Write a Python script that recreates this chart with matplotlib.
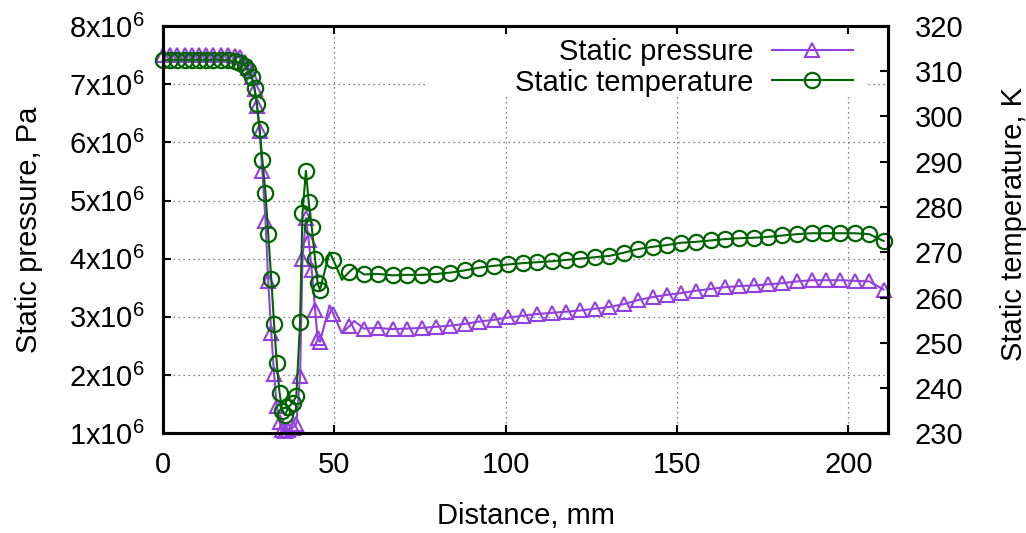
import matplotlib
matplotlib.use('Agg')
import matplotlib.pyplot as plt
from matplotlib.patches import Rectangle
from matplotlib.ticker import FixedLocator, FuncFormatter

#------------------------------------------------------------------------------------#
# Static pressure and static temperature along the distance (two y axes)
#------------------------------------------------------------------------------------#

plt.rcParams['font.family'] = ['Liberation Sans', 'DejaVu Sans']
plt.rcParams['mathtext.fontset'] = 'custom'
plt.rcParams['mathtext.rm'] = 'Liberation Sans'
plt.rcParams['font.size'] = 21

# Points carrying a marker: distance (mm), pressure (x10^6 Pa), temperature (K)
dist = [0.0, 2.1, 4.2, 6.3, 8.4, 10.5, 12.6, 14.7, 16.8, 18.9, 21.0,
        22.5, 23.9, 24.9, 25.9, 26.7, 27.4, 28.2, 29.0, 29.9, 30.7,
        31.6, 32.4, 33.2, 34.0, 34.8, 35.6, 36.6, 37.8, 38.9, 40.0,
        40.7, 41.7, 42.5, 43.4, 44.4, 45.1, 45.8, 49.7,
        54.4, 58.6, 62.8, 67.0, 71.3, 75.5, 79.7, 83.9, 88.1, 92.3,
        96.5, 100.8, 105.0, 109.2, 113.4, 117.6, 121.8, 126.0, 130.3, 134.5,
        138.7, 142.9, 147.1, 151.3, 155.5, 159.8, 164.0, 168.2, 172.4, 176.6,
        180.8, 185.0, 189.3, 193.5, 197.7, 201.9, 206.1, 210.3]

pressure = [7.50, 7.50, 7.50, 7.50, 7.50, 7.50, 7.50, 7.50, 7.50, 7.50, 7.49,
            7.46, 7.38, 7.27, 7.12, 6.92, 6.62, 6.20, 5.50, 4.65, 3.62,
            2.72, 2.02, 1.47, 1.19, 1.05, 1.04, 1.06, 1.09, 1.16, 1.98,
            4.00, 4.70, 4.32, 3.81, 3.12, 2.63, 2.57, 3.05,
            2.84, 2.80, 2.81, 2.79, 2.80, 2.81, 2.83, 2.85, 2.88, 2.92,
            2.95, 2.99, 3.02, 3.05, 3.07, 3.09, 3.11, 3.14, 3.17, 3.22,
            3.29, 3.34, 3.38, 3.41, 3.45, 3.48, 3.51, 3.53, 3.54, 3.56,
            3.58, 3.61, 3.63, 3.63, 3.63, 3.62, 3.61, 3.47]

temperature = [312.5, 312.5, 312.5, 312.5, 312.5, 312.5, 312.5, 312.5, 312.5, 312.4, 312.2,
               311.8, 311.2, 310.2, 308.7, 306.3, 302.8, 297.2, 290.3, 283.2, 274.1,
               264.0, 254.2, 245.6, 239.0, 235.0, 234.0, 235.8, 236.7, 238.2, 254.6,
               278.7, 288.0, 281.2, 275.6, 268.4, 263.2, 261.7, 268.3,
               265.7, 265.1, 265.2, 264.9, 265.0, 265.0, 265.2, 265.5, 266.0, 266.6,
               267.0, 267.3, 267.6, 267.8, 268.0, 268.3, 268.6, 268.9, 269.2, 269.9,
               270.7, 271.2, 271.6, 272.1, 272.3, 272.6, 272.9, 273.1, 273.2, 273.4,
               273.7, 274.0, 274.2, 274.2, 274.2, 274.2, 274.0, 272.5]

# Line-only points (small wiggles between markers)
dist_extra = [48.6, 52.2, 55.8]
pressure_extra = [3.20, 2.72, 2.93]
temperature_extra = [270.0, 263.9, 266.6]

x_ticks = [0, 50, 100, 150, 200]
p_ticks = [1, 2, 3, 4, 5, 6, 7, 8]
t_ticks = [230, 240, 250, 260, 270, 280, 290, 300, 310, 320]

# Merge marker points and line-only points
merged = sorted(zip(dist + dist_extra, pressure + pressure_extra,
                    temperature + temperature_extra))
line_d = [m[0] for m in merged]
line_p = [m[1] * 1e6 for m in merged]
line_t = [m[2] for m in merged]
marked = [d in dist for d in line_d]

purple = '#9440e0'
green = '#006400'

fig = plt.figure(figsize=(10.26, 5.33), dpi=100)
ax1 = fig.add_axes([0.1589, 0.1871, 0.7066, 0.7642])
ax2 = ax1.twinx()

# dotted grid, drawn by hand so the key box can cover it
for xv in x_ticks[1:]:
    ax1.axvline(xv, color='0.35', lw=0.9, ls=(0, (1, 3)), zorder=0.5)
for pv in p_ticks[1:-1]:
    ax1.axhline(pv * 1e6, color='0.35', lw=0.9, ls=(0, (1, 3)), zorder=0.5)
ax1.add_patch(Rectangle((0.364, 0.826), 0.608, 0.174, transform=ax1.transAxes,
                        facecolor='white', edgecolor='none', zorder=0.8))

lp, = ax1.plot(line_d, line_p, color=purple, lw=1.5, marker='^', ms=10,
               mfc='none', mew=1.5, markevery=marked, clip_on=False,
               label='Static pressure')
lt, = ax2.plot(line_d, line_t, color=green, lw=1.5, marker='o', ms=11,
               mfc='none', mew=1.6, markevery=marked, clip_on=False,
               label='Static temperature')

ax1.set_xlim(0, 211.6)
ax1.set_ylim(1e6, 8e6)
ax2.set_ylim(230, 320)

ax1.xaxis.set_major_locator(FixedLocator(x_ticks))
ax1.yaxis.set_major_locator(FixedLocator([v * 1e6 for v in p_ticks]))
ax1.yaxis.set_major_formatter(FuncFormatter(
    lambda v, pos: '%dx10$^{6}$' % round(v / 1e6)))
ax2.yaxis.set_major_locator(FixedLocator(t_ticks))

ax1.tick_params(axis='x', direction='in', length=6, width=1.5, top=True, pad=13)
ax1.tick_params(axis='y', direction='in', length=6, width=1.5, right=False, pad=13)
ax2.tick_params(axis='y', direction='in', length=6, width=1.5, pad=19)

for ax in (ax1, ax2):
    for s in ax.spines.values():
        s.set_linewidth(2.2)

ax1.set_xlabel('Distance, mm')
ax1.set_ylabel('Static pressure, Pa')
ax2.set_ylabel('Static temperature, K')
ax1.xaxis.set_label_coords(0.5, -0.168)
ax1.yaxis.set_label_coords(-0.166, 0.5)
ax2.yaxis.set_label_coords(1.154, 0.515)

ax2.legend(handles=[lp, lt], loc='upper right', bbox_to_anchor=(0.952, 0.97),
           frameon=False, markerfirst=False, numpoints=1, borderpad=0,
           borderaxespad=0, handlelength=2.8, handletextpad=0.62,
           labelspacing=0.08)

fig.savefig('out.png', dpi=100)
